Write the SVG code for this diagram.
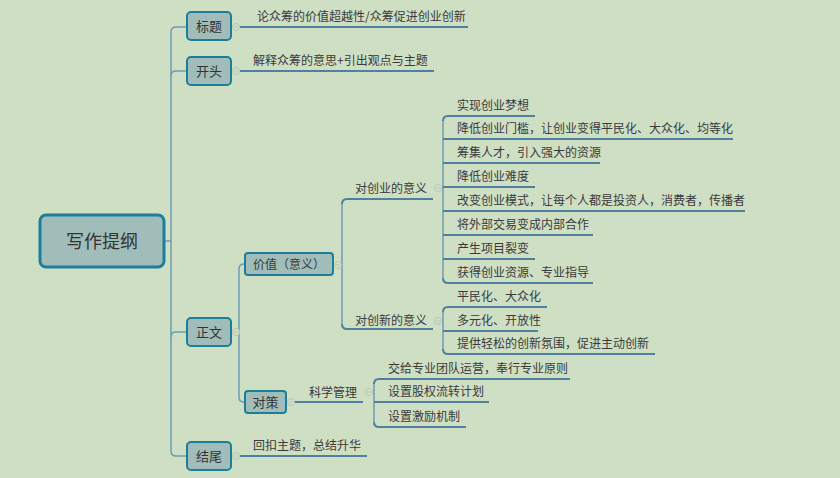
<svg xmlns="http://www.w3.org/2000/svg" width="840" height="478" viewBox="0 0 840 478">
<style>
.bg{fill:#cfdfc4}
.box{fill:#a0bdb9;stroke:#1c7e9b;stroke-width:2}
.root{fill:#a0bdb9;stroke:#1c7e9b;stroke-width:3}
.conn{fill:none;stroke:#6e9db3;stroke-width:1.5}
.ul{fill:none;stroke:#4f809f;stroke-width:2}
.col{fill:#cfdfc4;stroke:#b9c6bd;stroke-width:1}
.t{font-family:"Noto Sans CJK SC","Liberation Sans",sans-serif;font-size:12px;fill:#3a3a3a}
.bt{font-family:"Noto Sans CJK SC","Liberation Sans",sans-serif;font-size:13px;fill:#333;text-anchor:middle}
.rt{font-family:"Noto Sans CJK SC","Liberation Sans",sans-serif;font-size:18px;fill:#333;text-anchor:middle}
</style>
<defs>
<g id="collapse"><circle r="3.5" class="col"/><line x1="-2" y1="0" x2="2" y2="0" stroke="#b9c6bd" stroke-width="1"/></g>
</defs>
<rect class="bg" x="0" y="0" width="840" height="478"/>
<g id="connectors">
<path class="conn" d="M164,241 H171"/>
<path class="conn" d="M187,27 H176 Q171,27 171,32 V451 Q171,456 176,456 H187"/>
<path class="conn" d="M171,76 Q171,71 176,71 H187"/>
<path class="conn" d="M171,337 Q171,332 176,332 H187"/>
<path class="conn" d="M245,264 H244 Q239,264 239,269 V397 Q239,402 244,402 H245"/>
<path class="conn" d="M239.5,332 H239"/>
<path class="conn" d="M342,204 V324"/>
<path class="ul" d="M433,199 H347 Q342,199 342,204"/>
<path class="ul" d="M342,324 Q342,329 347,329 H433"/>
<path class="conn" d="M443,121 V278"/>
<path class="ul" d="M535,116 H448 Q443,116 443,121"/>
<path class="ul" d="M443,278 Q443,283 448,283 H593"/>
<line class="ul" x1="443" y1="139" x2="733" y2="139"/>
<line class="ul" x1="443" y1="163" x2="600" y2="163"/>
<line class="ul" x1="443" y1="187" x2="535" y2="187"/>
<line class="ul" x1="443" y1="211" x2="745" y2="211"/>
<line class="ul" x1="443" y1="235" x2="593" y2="235"/>
<line class="ul" x1="443" y1="259" x2="535" y2="259"/>
<path class="conn" d="M443,312 V349"/>
<path class="ul" d="M547,307 H448 Q443,307 443,312"/>
<path class="ul" d="M443,349 Q443,354 448,354 H655"/>
<line class="ul" x1="443" y1="331" x2="538" y2="331"/>
<line class="ul" x1="240" y1="27" x2="468" y2="27"/>
<line class="ul" x1="240" y1="71" x2="434" y2="71"/>
<line class="ul" x1="240" y1="456" x2="367" y2="456"/>
<line class="ul" x1="295" y1="402" x2="363" y2="402"/>
<path class="conn" d="M374,384 V422"/>
<path class="ul" d="M570,379 H379 Q374,379 374,384"/>
<path class="ul" d="M374,422 Q374,427 379,427 H466"/>
<line class="ul" x1="374" y1="402" x2="489" y2="402"/>
<use href="#collapse" x="236" y="27"/>
<use href="#collapse" x="236" y="71"/>
<use href="#collapse" x="236" y="332"/>
<use href="#collapse" x="236" y="456"/>
<use href="#collapse" x="338" y="265"/>
<use href="#collapse" x="291" y="402"/>
<use href="#collapse" x="438" y="188"/>
<use href="#collapse" x="438" y="321"/>
<use href="#collapse" x="369" y="392"/>
</g>
<g id="root"><rect class="root" x="40" y="215" width="124" height="52" rx="6"/><text class="rt" x="102" y="248">写作提纲</text></g>
<g id="n-title"><rect class="box" x="187" y="12" width="44" height="28" rx="4"/><text class="bt" x="209" y="31">标题</text></g>
<g id="n-title-c"><text class="t" x="257" y="20.5">论众筹的价值超越性/众筹促进创业创新</text></g>
<g id="n-open"><rect class="box" x="187" y="57" width="44" height="28" rx="4"/><text class="bt" x="209" y="75.5">开头</text></g>
<g id="n-open-c"><text class="t" x="253" y="64.5">解释众筹的意思+引出观点与主题</text></g>
<g id="n-body"><rect class="box" x="187" y="318" width="44" height="28" rx="4"/><text class="bt" x="209" y="336.5">正文</text></g>
<g id="n-end"><rect class="box" x="187" y="442" width="44" height="28" rx="4"/><text class="bt" x="209" y="460.5">结尾</text></g>
<g id="n-end-c"><text class="t" x="253" y="449.5">回扣主题，总结升华</text></g>
<g id="n-value"><rect class="box" x="245" y="253" width="88" height="22" rx="3"/><text class="t" x="289" y="268.5" text-anchor="middle">价值（意义）</text></g>
<g id="n-measure"><rect class="box" x="245" y="391" width="41" height="22" rx="3"/><text class="bt" x="265.5" y="406.5">对策</text></g>
<g id="n-startup"><text class="t" x="355" y="192.5">对创业的意义</text></g>
<g id="n-innov"><text class="t" x="355" y="325">对创新的意义</text></g>
<g id="n-sci"><text class="t" x="309" y="396.5">科学管理</text></g>
<g id="n-s1"><text class="t" x="457" y="109.5">实现创业梦想</text></g>
<g id="n-s2"><text class="t" x="457" y="132.5">降低创业门槛，让创业变得平民化、大众化、均等化</text></g>
<g id="n-s3"><text class="t" x="457" y="156.5">筹集人才，引入强大的资源</text></g>
<g id="n-s4"><text class="t" x="457" y="180.5">降低创业难度</text></g>
<g id="n-s5"><text class="t" x="457" y="204.5">改变创业模式，让每个人都是投资人，消费者，传播者</text></g>
<g id="n-s6"><text class="t" x="457" y="228.5">将外部交易变成内部合作</text></g>
<g id="n-s7"><text class="t" x="457" y="252.5">产生项目裂变</text></g>
<g id="n-s8"><text class="t" x="457" y="276.5">获得创业资源、专业指导</text></g>
<g id="n-i1"><text class="t" x="457" y="300.5">平民化、大众化</text></g>
<g id="n-i2"><text class="t" x="457" y="324.5">多元化、开放性</text></g>
<g id="n-i3"><text class="t" x="457" y="347.5">提供轻松的创新氛围，促进主动创新</text></g>
<g id="n-m1"><text class="t" x="388" y="372.5">交给专业团队运营，奉行专业原则</text></g>
<g id="n-m2"><text class="t" x="388" y="395.5">设置股权流转计划</text></g>
<g id="n-m3"><text class="t" x="388" y="420.5">设置激励机制</text></g>
</svg>
